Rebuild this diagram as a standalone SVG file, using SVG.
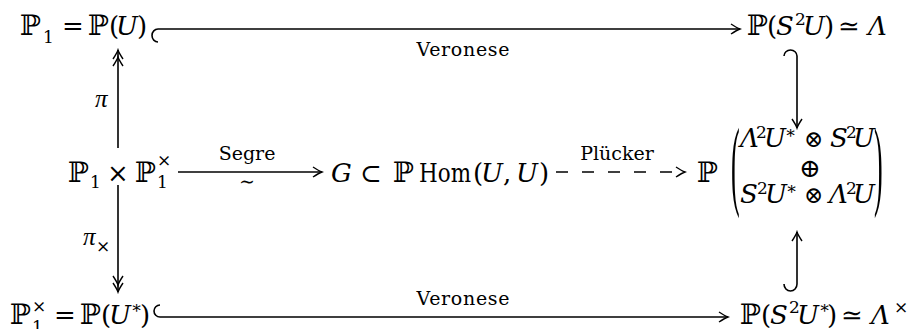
<svg xmlns="http://www.w3.org/2000/svg" width="917" height="329" viewBox="0 0 917 329">
<defs>
<style>
text{font-family:"DejaVu Serif","Liberation Serif",serif;fill:#000}
.m{font-size:26px}
.bb{font-size:28px}
.s{font-size:17px}
.i{font-style:italic}
.pi{font-family:"Liberation Serif","DejaVu Serif",serif;font-style:italic;font-size:25px}
.lbl{font-size:19px}
.par{font-family:"Liberation Serif","DejaVu Serif",serif;font-size:26px}
.ar{fill:none;stroke:#000;stroke-width:1.6}
.dash{stroke-dasharray:12 14}
</style>
<marker id="to" viewBox="-12 -7 14 14" refX="0" refY="0" markerWidth="14" markerHeight="14" orient="auto" markerUnits="userSpaceOnUse">
<path d="M-9,-5 Q-3,-1 0,0 Q-3,1 -9,5" fill="none" stroke="#000" stroke-width="1.4"/>
</marker>
<marker id="two" viewBox="-18 -7 20 14" refX="0" refY="0" markerWidth="20" markerHeight="14" orient="auto" markerUnits="userSpaceOnUse">
<path d="M-9,-5 Q-3,-1 0,0 Q-3,1 -9,5 M-16,-5 Q-10,-1 -7,0 Q-10,1 -16,5" fill="none" stroke="#000" stroke-width="1.4"/>
</marker>
</defs>

<g id="connectors">
<path class="ar" d="M158,42 A6,6.5 0 0 1 158,29 L740,29" marker-end="url(#to)"/>
<text class="lbl" x="463" y="56" text-anchor="middle" textLength="93" lengthAdjust="spacing">Veronese</text>
<path class="ar" d="M160,305 A6,6 0 0 0 160,317 L728,317" marker-end="url(#to)"/>
<text class="lbl" x="463" y="305" text-anchor="middle" textLength="93" lengthAdjust="spacing">Veronese</text>
<path class="ar" d="M118,148 L118,50" marker-end="url(#two)"/>
<text class="pi" x="95" y="107">π</text>
<path class="ar" d="M118,185 L118,292" marker-end="url(#two)"/>
<text class="pi" x="83" y="245">π</text><text class="s" x="96" y="252">×</text>
<path class="ar" d="M178,172 L322,172" marker-end="url(#to)"/>
<text class="lbl" x="247" y="160" text-anchor="middle">Segre</text>
<text class="lbl" x="247" y="188" text-anchor="middle">∼</text>
<path class="ar dash" d="M556,172 L685,172" marker-end="url(#to)"/>
<text class="lbl" x="617" y="160" text-anchor="middle">Plücker</text>
<path class="ar" d="M784,56 A6.5,6 0 0 1 797,56 L797,128" marker-end="url(#to)"/>
<path class="ar" d="M784,284 A6.5,7 0 0 0 797,284 L797,232" marker-end="url(#to)"/>
</g>

<g id="P1">
<text class="m" y="35"><tspan x="20" class="bb">ℙ</tspan><tspan x="62">=</tspan><tspan x="88" class="bb">ℙ</tspan><tspan x="109">(</tspan><tspan x="116" class="i">U</tspan><tspan x="137">)</tspan></text>
<text class="s" x="43" y="43">1</text>
</g>

<g id="PS2U">
<text class="m" y="35"><tspan x="747" class="bb">ℙ</tspan><tspan x="767">(</tspan><tspan x="776" class="i">S</tspan><tspan x="824">)</tspan><tspan x="838">≃</tspan><tspan x="868" class="i">Λ</tspan></text>
<text class="s" x="795" y="25">2</text>
<text class="m i" x="803" y="35">U</text>
</g>

<g id="P1xP1">
<text class="m bb" x="68" y="182">ℙ</text>
<text class="s" x="90" y="188">1</text>
<text class="m" x="107" y="182">×</text>
<text class="m bb" x="135" y="182">ℙ</text>
<text class="s" x="157" y="188">1</text>
<text class="s" x="157" y="166">×</text>
</g>

<g id="G">
<text class="m" y="182"><tspan x="331" class="i">G</tspan><tspan x="360">⊂</tspan><tspan x="393" class="bb">ℙ</tspan><tspan x="419" textLength="52" lengthAdjust="spacingAndGlyphs">Hom</tspan><tspan x="473">(</tspan><tspan x="481" class="i">U</tspan><tspan x="503">,</tspan><tspan x="516" class="i">U</tspan><tspan x="539">)</tspan></text>
</g>

<g id="Pmatrix">
<text class="m bb" x="697" y="182">ℙ</text>
<text class="par" transform="translate(731,197) scale(1,3.8)">(</text>
<text class="par" transform="translate(874,197) scale(1,3.8)">)</text>
<text class="m" y="147"><tspan x="740" class="i">Λ</tspan><tspan x="764" class="i">U</tspan><tspan x="804" font-size="23">⊗</tspan><tspan x="830" class="i">S</tspan><tspan x="853" class="i">U</tspan></text>
<text class="s" y="138"><tspan x="756">2</tspan><tspan x="785">∗</tspan><tspan x="846">2</tspan></text>
<text class="m" x="799" y="177">⊕</text>
<text class="m" y="203"><tspan x="740" class="i">S</tspan><tspan x="765" class="i">U</tspan><tspan x="804" font-size="23">⊗</tspan><tspan x="829" class="i">Λ</tspan><tspan x="853" class="i">U</tspan></text>
<text class="s" y="194"><tspan x="757">2</tspan><tspan x="786">∗</tspan><tspan x="846">2</tspan></text>
</g>

<g id="P1dual">
<text class="m" y="324"><tspan x="10" class="bb">ℙ</tspan><tspan x="54">=</tspan><tspan x="80" class="bb">ℙ</tspan><tspan x="101">(</tspan><tspan x="109" class="i">U</tspan><tspan x="140">)</tspan></text>
<text class="s" x="32" y="312">×</text>
<text class="s" x="32" y="333">1</text>
<text class="s" x="131" y="313">∗</text>
</g>

<g id="PS2Udual">
<text class="m" y="324"><tspan x="740" class="bb">ℙ</tspan><tspan x="761">(</tspan><tspan x="770" class="i">S</tspan><tspan x="797" class="i">U</tspan><tspan x="827">)</tspan><tspan x="841">≃</tspan><tspan x="871" class="i">Λ</tspan></text>
<text class="s" y="313"><tspan x="789">2</tspan><tspan x="819">∗</tspan><tspan x="894">×</tspan></text>
</g>
</svg>
